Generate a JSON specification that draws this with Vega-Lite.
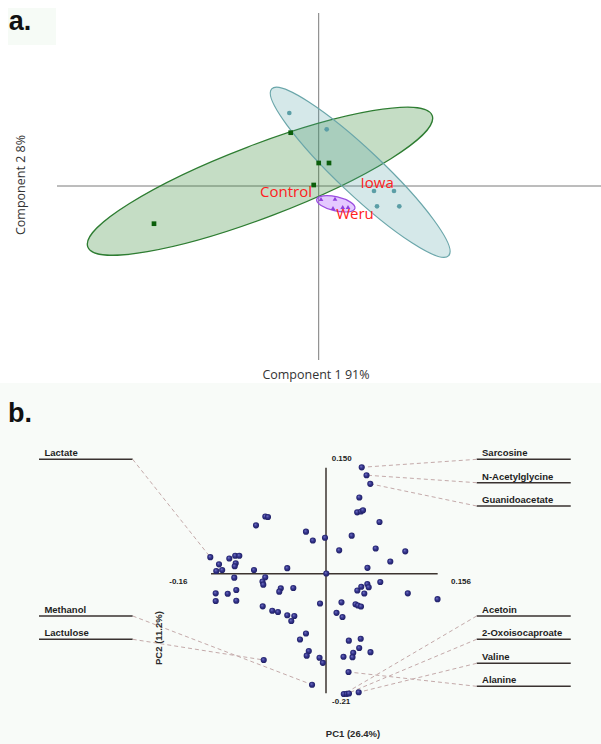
{
  "$schema": "https://vega.github.io/schema/vega-lite/v6.json",
  "background": "white",
  "padding": 0,
  "spacing": 0,
  "config": {"view": {"stroke": null}},
  "resolve": {"scale": {"x": "independent", "y": "independent", "color": "independent", "shape": "independent"}},
  "datasets": {
    "scoresA": [
      {"group": "Control", "c1": -3.294, "c2": -0.754},
      {"group": "Control", "c1": -0.56, "c2": 1.066},
      {"group": "Control", "c1": 0.0, "c2": 0.46},
      {"group": "Control", "c1": 0.206, "c2": 0.46},
      {"group": "Control", "c1": -0.1, "c2": 0.02},
      {"group": "Iowa", "c1": -0.588, "c2": 1.46},
      {"group": "Iowa", "c1": 0.16, "c2": 1.134},
      {"group": "Iowa", "c1": 1.106, "c2": -0.1},
      {"group": "Iowa", "c1": 1.506, "c2": -0.1},
      {"group": "Iowa", "c1": 1.166, "c2": -0.406},
      {"group": "Iowa", "c1": 1.612, "c2": -0.406},
      {"group": "Weru", "c1": 0.046, "c2": -0.26},
      {"group": "Weru", "c1": 0.326, "c2": -0.254},
      {"group": "Weru", "c1": 0.286, "c2": -0.44},
      {"group": "Weru", "c1": 0.48, "c2": -0.42},
      {"group": "Weru", "c1": 0.586, "c2": -0.42}
    ],
    "ellipsesA": [
      {"group": "Control", "c1": -1.174, "c2": 0.096},
      {"group": "Iowa", "c1": 0.83, "c2": 0.274},
      {"group": "Weru", "c1": 0.342, "c2": -0.356}
    ],
    "groupLabelsA": [
      {"text": "Control", "c1": -0.654, "c2": -0.114},
      {"text": "Iowa", "c1": 1.17, "c2": 0.066},
      {"text": "Weru", "c1": 0.726, "c2": -0.566}
    ],
    "axesA": [
      {"axis": "Component 1", "c1": -5.234, "c1b": 5.646, "c2": 0, "c2b": 0},
      {"axis": "Component 2", "c1": 0, "c1b": 0, "c2": 3.46, "c2b": -3.48}
    ],
    "titlesA": [
      {"text": "Component 1 91%", "c1": -0.054, "c2": -3.78, "rot": 0},
      {"text": "Component 2 8%", "c1": -5.954, "c2": 0.02, "rot": 270}
    ],
    "panelA": [{"text": "a.", "c1": -6.2, "c2": 3.28, "c1b": -5.254, "c2top": 3.56, "c2bot": 2.82, "c1left": -6.214}],
    "loadings": [
      {"pc1": 0.0496, "pc2": 0.152}, {"pc1": 0.0563, "pc2": 0.1407}, {"pc1": 0.0615, "pc2": 0.1284},
      {"pc1": 0.0463, "pc2": 0.1089}, {"pc1": 0.0433, "pc2": 0.0877}, {"pc1": 0.0486, "pc2": 0.0889},
      {"pc1": 0.0514, "pc2": 0.0907}, {"pc1": 0.0743, "pc2": 0.0739}, {"pc1": -0.0278, "pc2": 0.06},
      {"pc1": -0.0183, "pc2": 0.0474}, {"pc1": -0.0014, "pc2": 0.0514}, {"pc1": 0.0357, "pc2": 0.0543},
      {"pc1": 0.0183, "pc2": 0.0334}, {"pc1": 0.069, "pc2": 0.036}, {"pc1": 0.1101, "pc2": 0.032},
      {"pc1": 0.0893, "pc2": 0.0174}, {"pc1": 0.0576, "pc2": 0.0084}, {"pc1": 0.0004, "pc2": 0.0003},
      {"pc1": 0.0754, "pc2": -0.0119}, {"pc1": -0.0843, "pc2": 0.0817}, {"pc1": -0.0806, "pc2": 0.081},
      {"pc1": -0.0972, "pc2": 0.0691}, {"pc1": -0.1607, "pc2": 0.0236}, {"pc1": -0.1486, "pc2": 0.0134},
      {"pc1": -0.1524, "pc2": 0.0039}, {"pc1": -0.1442, "pc2": 0.0053}, {"pc1": -0.1343, "pc2": 0.0217},
      {"pc1": -0.1261, "pc2": 0.0257}, {"pc1": -0.1204, "pc2": 0.0256}, {"pc1": -0.1254, "pc2": 0.0149},
      {"pc1": -0.1268, "pc2": 0.0106}, {"pc1": -0.1, "pc2": 0.0053}, {"pc1": -0.0538, "pc2": 0.0079},
      {"pc1": -0.1274, "pc2": -0.0057}, {"pc1": -0.0844, "pc2": -0.0051}, {"pc1": -0.0882, "pc2": -0.0111},
      {"pc1": -0.0871, "pc2": -0.0157}, {"pc1": -0.1532, "pc2": -0.028}, {"pc1": -0.1532, "pc2": -0.039},
      {"pc1": -0.1365, "pc2": -0.0286}, {"pc1": -0.1246, "pc2": -0.0233}, {"pc1": -0.1246, "pc2": -0.0386},
      {"pc1": -0.0628, "pc2": -0.0209}, {"pc1": -0.0649, "pc2": -0.0257}, {"pc1": -0.0454, "pc2": -0.0204},
      {"pc1": -0.0879, "pc2": -0.0466}, {"pc1": -0.0746, "pc2": -0.0529}, {"pc1": -0.0667, "pc2": -0.0547},
      {"pc1": -0.0538, "pc2": -0.0594}, {"pc1": -0.044, "pc2": -0.0604}, {"pc1": -0.0482, "pc2": -0.0676},
      {"pc1": -0.0083, "pc2": -0.0426}, {"pc1": -0.0278, "pc2": -0.0854}, {"pc1": -0.0361, "pc2": -0.094},
      {"pc1": -0.0239, "pc2": -0.1104}, {"pc1": -0.0268, "pc2": -0.1171}, {"pc1": -0.009, "pc2": -0.1201},
      {"pc1": -0.0044, "pc2": -0.1273}, {"pc1": -0.0865, "pc2": -0.1233}, {"pc1": -0.0194, "pc2": -0.1586},
      {"pc1": 0.0435, "pc2": -0.024}, {"pc1": 0.049, "pc2": -0.0186}, {"pc1": 0.0532, "pc2": -0.0283},
      {"pc1": 0.0574, "pc2": -0.0147}, {"pc1": 0.0593, "pc2": -0.0193}, {"pc1": 0.1136, "pc2": -0.028},
      {"pc1": 0.1549, "pc2": -0.0364}, {"pc1": 0.0215, "pc2": -0.0409}, {"pc1": 0.0146, "pc2": -0.0559},
      {"pc1": 0.0229, "pc2": -0.0619}, {"pc1": 0.041, "pc2": -0.0436}, {"pc1": 0.0444, "pc2": -0.0454},
      {"pc1": 0.0486, "pc2": -0.0469}, {"pc1": 0.0317, "pc2": -0.0957}, {"pc1": 0.0482, "pc2": -0.0929},
      {"pc1": 0.0461, "pc2": -0.1061}, {"pc1": 0.0378, "pc2": -0.113}, {"pc1": 0.0368, "pc2": -0.1193},
      {"pc1": 0.0243, "pc2": -0.1187}, {"pc1": 0.0618, "pc2": -0.1121}, {"pc1": 0.0313, "pc2": -0.1404},
      {"pc1": 0.0247, "pc2": -0.1719}, {"pc1": 0.0289, "pc2": -0.1716}, {"pc1": 0.0319, "pc2": -0.1711},
      {"pc1": 0.0454, "pc2": -0.1694}
    ],
    "callouts": [
      {"name": "Lactate", "side": "left", "inner": -0.2685, "outer": -0.3986, "tx": -0.3911, "ly": 0.1634, "pc1": -0.1607, "pc2": 0.0236},
      {"name": "Methanol", "side": "left", "inner": -0.2685, "outer": -0.3986, "tx": -0.3911, "ly": -0.0604, "pc1": -0.0194, "pc2": -0.1586},
      {"name": "Lactulose", "side": "left", "inner": -0.2685, "outer": -0.3986, "tx": -0.3911, "ly": -0.0937, "pc1": -0.0865, "pc2": -0.1233},
      {"name": "Sarcosine", "side": "right", "inner": 0.2093, "outer": 0.3399, "tx": 0.2167, "ly": 0.1634, "pc1": 0.0496, "pc2": 0.152},
      {"name": "N-Acetylglycine", "side": "right", "inner": 0.2093, "outer": 0.3399, "tx": 0.2167, "ly": 0.13, "pc1": 0.0563, "pc2": 0.1407},
      {"name": "Guanidoacetate", "side": "right", "inner": 0.2093, "outer": 0.3399, "tx": 0.2167, "ly": 0.0967, "pc1": 0.0615, "pc2": 0.1284},
      {"name": "Acetoin", "side": "right", "inner": 0.2093, "outer": 0.3399, "tx": 0.2167, "ly": -0.0604, "pc1": 0.0247, "pc2": -0.1719},
      {"name": "2-Oxoisocaproate", "side": "right", "inner": 0.2093, "outer": 0.3399, "tx": 0.2167, "ly": -0.0937, "pc1": 0.0289, "pc2": -0.1716},
      {"name": "Valine", "side": "right", "inner": 0.2093, "outer": 0.3399, "tx": 0.2167, "ly": -0.128, "pc1": 0.0454, "pc2": -0.1694},
      {"name": "Alanine", "side": "right", "inner": 0.2093, "outer": 0.3399, "tx": 0.2167, "ly": -0.1609, "pc1": 0.0313, "pc2": -0.1404}
    ],
    "axesB": [
      {"axis": "PC1", "pc1": -0.1597, "pc1b": 0.1551, "pc2": 0, "pc2b": 0},
      {"axis": "PC2", "pc1": 0, "pc1b": 0, "pc2": 0.1514, "pc2b": -0.1709}
    ],
    "tickLabelsB": [
      {"text": "0.150", "pc1": 0.0218, "pc2": 0.1639},
      {"text": "0.156", "pc1": 0.1875, "pc2": -0.0114},
      {"text": "-0.16", "pc1": -0.2051, "pc2": -0.0114},
      {"text": "-0.21", "pc1": 0.0211, "pc2": -0.1837}
    ],
    "titlesB": [
      {"text": "PC1 (26.4%)", "pc1": 0.0375, "pc2": -0.229, "rot": 0},
      {"text": "PC2 (11.2%)", "pc1": -0.2315, "pc2": -0.0919, "rot": 270}
    ],
    "panelB": [{"text": "b.", "pc1": -0.4417, "pc2": 0.2281}]
  },
  "vconcat": [
    {
      "width": 601,
      "height": 383,
      "layer": [
        {
          "data": {"name": "panelA"},
          "mark": {"type": "rect", "fill": "#f6fbf6"},
          "encoding": {
            "x": {"field": "c1left", "type": "quantitative", "scale": {"domain": [-6.374, 5.646], "nice": false, "zero": false}, "axis": null},
            "x2": {"field": "c1b"},
            "y": {"field": "c2top", "type": "quantitative", "scale": {"domain": [-3.94, 3.72], "nice": false, "zero": false}, "axis": null},
            "y2": {"field": "c2bot"}
          }
        },
        {
          "data": {"name": "axesA"},
          "mark": {"type": "rule", "color": "#7a7a7a", "strokeWidth": 1},
          "encoding": {
            "x": {"field": "c1", "type": "quantitative"},
            "x2": {"field": "c1b"},
            "y": {"field": "c2", "type": "quantitative"},
            "y2": {"field": "c2b"}
          }
        },
        {
          "data": {"name": "ellipsesA"},
          "transform": [{"filter": "datum.group === 'Control'"}],
          "mark": {"type": "point", "shape": "M -184.3 0 A 184.3 36.3 0 1 0 184.3 0 A 184.3 36.3 0 1 0 -184.3 0 Z", "size": 4, "angle": 339.1, "filled": true, "opacity": 1, "fill": "#3f8f3f", "fillOpacity": 0.3, "stroke": "#2e7d32", "strokeWidth": 1.3, "strokeOpacity": 1},
          "encoding": {
            "x": {"field": "c1", "type": "quantitative"},
            "y": {"field": "c2", "type": "quantitative"}
          }
        },
        {
          "data": {"name": "ellipsesA"},
          "transform": [{"filter": "datum.group === 'Iowa'"}],
          "mark": {"type": "point", "shape": "M -121.6 0 A 121.6 22.4 0 1 0 121.6 0 A 121.6 22.4 0 1 0 -121.6 0 Z", "size": 4, "angle": 43.3, "filled": true, "opacity": 1, "fill": "#4f9ea3", "fillOpacity": 0.24, "stroke": "#6aa6aa", "strokeWidth": 1.2, "strokeOpacity": 1},
          "encoding": {
            "x": {"field": "c1", "type": "quantitative"},
            "y": {"field": "c2", "type": "quantitative"}
          }
        },
        {
          "data": {"name": "ellipsesA"},
          "transform": [{"filter": "datum.group === 'Weru'"}],
          "mark": {"type": "point", "shape": "M -19.65 0 A 19.65 7.04 0 1 0 19.65 0 A 19.65 7.04 0 1 0 -19.65 0 Z", "size": 4, "angle": 13.2, "filled": true, "opacity": 1, "fill": "#a64dff", "fillOpacity": 0.3, "stroke": "#9b4de0", "strokeWidth": 1.2, "strokeOpacity": 1},
          "encoding": {
            "x": {"field": "c1", "type": "quantitative"},
            "y": {"field": "c2", "type": "quantitative"}
          }
        },
        {
          "data": {"name": "scoresA"},
          "mark": {"type": "point", "filled": true, "opacity": 1, "size": 22},
          "encoding": {
            "x": {"field": "c1", "type": "quantitative"},
            "y": {"field": "c2", "type": "quantitative"},
            "shape": {"field": "group", "type": "nominal", "scale": {"domain": ["Control", "Iowa", "Weru"], "range": ["square", "circle", "triangle-up"]}, "legend": null},
            "color": {"field": "group", "type": "nominal", "scale": {"domain": ["Control", "Iowa", "Weru"], "range": ["#0b5e0b", "#5b9ea6", "#9040dd"]}, "legend": null}
          }
        },
        {
          "data": {"name": "groupLabelsA"},
          "mark": {"type": "text", "color": "#ff2020", "font": "Open Sans", "fontSize": 15, "align": "center", "baseline": "middle"},
          "encoding": {
            "x": {"field": "c1", "type": "quantitative"},
            "y": {"field": "c2", "type": "quantitative"},
            "text": {"field": "text"}
          }
        },
        {
          "data": {"name": "titlesA"},
          "mark": {"type": "text", "color": "#333333", "font": "Open Sans", "fontSize": 12.5, "align": "center", "baseline": "middle"},
          "encoding": {
            "x": {"field": "c1", "type": "quantitative"},
            "y": {"field": "c2", "type": "quantitative"},
            "angle": {"field": "rot", "type": "quantitative", "scale": null},
            "text": {"field": "text"}
          }
        },
        {
          "data": {"name": "panelA"},
          "mark": {"type": "text", "color": "#111111", "font": "Liberation Sans", "fontWeight": "bold", "fontSize": 27, "align": "left", "baseline": "middle"},
          "encoding": {
            "x": {"field": "c1", "type": "quantitative"},
            "y": {"field": "c2", "type": "quantitative"},
            "text": {"field": "text"}
          }
        }
      ]
    },
    {
      "width": 601,
      "height": 361,
      "view": {"fill": "#f8fbf8", "stroke": null},
      "layer": [
        {
          "data": {"name": "axesB"},
          "mark": {"type": "rule", "color": "#3d3530", "strokeWidth": 1.5},
          "encoding": {
            "x": {"field": "pc1", "type": "quantitative", "scale": {"domain": [-0.45278, 0.38194], "nice": false, "zero": false}, "axis": null},
            "x2": {"field": "pc1b"},
            "y": {"field": "pc2", "type": "quantitative", "scale": {"domain": [-0.24329, 0.27243], "nice": false, "zero": false}, "axis": null},
            "y2": {"field": "pc2b"}
          }
        },
        {
          "data": {"name": "callouts"},
          "mark": {"type": "rule", "color": "#3a3230", "strokeWidth": 1.5},
          "encoding": {
            "x": {"field": "outer", "type": "quantitative"},
            "x2": {"field": "inner"},
            "y": {"field": "ly", "type": "quantitative"}
          }
        },
        {
          "data": {"name": "callouts"},
          "mark": {"type": "rule", "color": "#c4aaaa", "strokeWidth": 1, "strokeDash": [4, 3]},
          "encoding": {
            "x": {"field": "inner", "type": "quantitative"},
            "x2": {"field": "pc1"},
            "y": {"field": "ly", "type": "quantitative"},
            "y2": {"field": "pc2"}
          }
        },
        {
          "data": {"name": "loadings"},
          "mark": {
            "type": "point", "filled": true, "opacity": 1, "size": 38,
            "fill": {"gradient": "radial", "x1": 0.38, "y1": 0.35, "r1": 0, "x2": 0.5, "y2": 0.5, "r2": 0.55,
              "stops": [{"offset": 0, "color": "#7b7bc8"}, {"offset": 0.45, "color": "#35358f"}, {"offset": 1, "color": "#1b1b5c"}]},
            "stroke": null
          },
          "encoding": {
            "x": {"field": "pc1", "type": "quantitative"},
            "y": {"field": "pc2", "type": "quantitative"}
          }
        },
        {
          "data": {"name": "callouts"},
          "mark": {"type": "text", "color": "#1e1e1e", "font": "Liberation Sans", "fontWeight": "bold", "fontSize": 9.5, "align": "left", "baseline": "alphabetic", "dy": -3},
          "encoding": {
            "x": {"field": "tx", "type": "quantitative"},
            "y": {"field": "ly", "type": "quantitative"},
            "text": {"field": "name"}
          }
        },
        {
          "data": {"name": "tickLabelsB"},
          "mark": {"type": "text", "color": "#1e1e1e", "font": "Liberation Sans", "fontWeight": "bold", "fontSize": 8, "align": "center", "baseline": "middle"},
          "encoding": {
            "x": {"field": "pc1", "type": "quantitative"},
            "y": {"field": "pc2", "type": "quantitative"},
            "text": {"field": "text"}
          }
        },
        {
          "data": {"name": "titlesB"},
          "mark": {"type": "text", "color": "#2a2a2a", "font": "Liberation Sans", "fontWeight": "bold", "fontSize": 9.5, "align": "center", "baseline": "middle"},
          "encoding": {
            "x": {"field": "pc1", "type": "quantitative"},
            "y": {"field": "pc2", "type": "quantitative"},
            "angle": {"field": "rot", "type": "quantitative", "scale": null},
            "text": {"field": "text"}
          }
        },
        {
          "data": {"name": "panelB"},
          "mark": {"type": "text", "color": "#111111", "font": "Liberation Sans", "fontWeight": "bold", "fontSize": 27, "align": "left", "baseline": "middle"},
          "encoding": {
            "x": {"field": "pc1", "type": "quantitative"},
            "y": {"field": "pc2", "type": "quantitative"},
            "text": {"field": "text"}
          }
        }
      ]
    }
  ]
}
